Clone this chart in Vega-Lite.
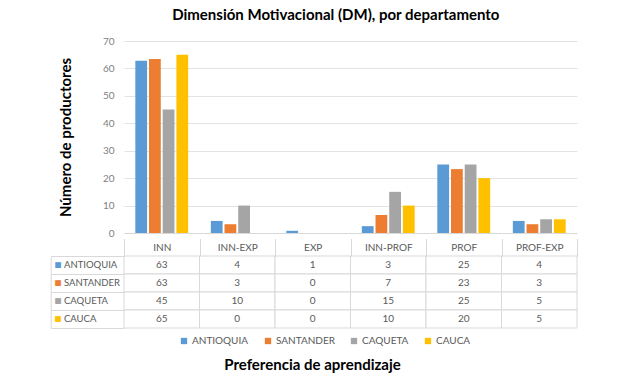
{
  "$schema": "https://vega.github.io/schema/vega-lite/v6.json",
  "padding": {"left": 50, "top": 8, "right": 5, "bottom": 5},
  "autosize": {"type": "pad"},
  "title": {"text": "Dimensión Motivacional (DM), por departamento", "font": "Lato", "fontSize": 15, "fontWeight": "bold", "color": "#000000", "anchor": "middle", "dx": 22, "offset": 13},
  "config": {
    "view": {"stroke": null},
    "font": "Lato",
    "legend": {"orient": "none", "legendX": 55, "legendY": 295, "direction": "horizontal", "symbolType": "square", "symbolSize": 40, "symbolStrokeWidth": 0, "labelFont": "Lato", "labelFontSize": 10, "labelColor": "#595959", "columnPadding": 14, "symbolOffset": 0, "labelOffset": 3, "title": null}
  },
  "data": {"values": [
    {"categoria": "INN", "departamento": "ANTIOQUIA", "valor": 62.8},
    {"categoria": "INN", "departamento": "SANTANDER", "valor": 63.4},
    {"categoria": "INN", "departamento": "CAQUETA", "valor": 45},
    {"categoria": "INN", "departamento": "CAUCA", "valor": 65},
    {"categoria": "INN-EXP", "departamento": "ANTIOQUIA", "valor": 4.4},
    {"categoria": "INN-EXP", "departamento": "SANTANDER", "valor": 3.2},
    {"categoria": "INN-EXP", "departamento": "CAQUETA", "valor": 10},
    {"categoria": "INN-EXP", "departamento": "CAUCA", "valor": 0},
    {"categoria": "EXP", "departamento": "ANTIOQUIA", "valor": 0.8},
    {"categoria": "EXP", "departamento": "SANTANDER", "valor": 0},
    {"categoria": "EXP", "departamento": "CAQUETA", "valor": 0},
    {"categoria": "EXP", "departamento": "CAUCA", "valor": 0},
    {"categoria": "INN-PROF", "departamento": "ANTIOQUIA", "valor": 2.5},
    {"categoria": "INN-PROF", "departamento": "SANTANDER", "valor": 6.6},
    {"categoria": "INN-PROF", "departamento": "CAQUETA", "valor": 15},
    {"categoria": "INN-PROF", "departamento": "CAUCA", "valor": 10},
    {"categoria": "PROF", "departamento": "ANTIOQUIA", "valor": 25},
    {"categoria": "PROF", "departamento": "SANTANDER", "valor": 23.3},
    {"categoria": "PROF", "departamento": "CAQUETA", "valor": 25},
    {"categoria": "PROF", "departamento": "CAUCA", "valor": 20},
    {"categoria": "PROF-EXP", "departamento": "ANTIOQUIA", "valor": 4.4},
    {"categoria": "PROF-EXP", "departamento": "SANTANDER", "valor": 3.2},
    {"categoria": "PROF-EXP", "departamento": "CAQUETA", "valor": 5},
    {"categoria": "PROF-EXP", "departamento": "CAUCA", "valor": 5}
  ]},
  "spacing": 0,
  "vconcat": [
    {
      "width": 453,
      "height": 192,
      "mark": {"type": "bar"},
      "encoding": {
        "x": {"field": "categoria", "type": "nominal", "sort": ["INN", "INN-EXP", "EXP", "INN-PROF", "PROF", "PROF-EXP"],
          "scale": {"paddingInner": 0.3, "paddingOuter": 0.15},
          "axis": {"title": null, "labels": false, "ticks": false, "domain": true, "domainColor": "#d9d9d9", "domainWidth": 1}},
        "xOffset": {"field": "departamento", "type": "nominal", "sort": ["ANTIOQUIA", "SANTANDER", "CAQUETA", "CAUCA"], "scale": {"paddingInner": 0.14}},
        "y": {"field": "valor", "type": "quantitative", "scale": {"domain": [0, 70]},
          "axis": {"values": [0, 10, 20, 30, 40, 50, 60, 70], "title": "Número de productores", "titleFont": "Lato", "titleFontSize": 15, "titleFontWeight": "bold", "titleColor": "#000000", "titlePadding": 29,
            "labelFont": "Lato", "labelFontSize": 10, "labelColor": "#808080", "labelPadding": 10, "ticks": false, "domain": false, "grid": true, "gridColor": "#e3e3e3", "gridWidth": 1}},
        "color": {"field": "departamento", "type": "nominal", "sort": ["ANTIOQUIA", "SANTANDER", "CAQUETA", "CAUCA"],
          "scale": {"domain": ["ANTIOQUIA", "SANTANDER", "CAQUETA", "CAUCA"], "range": ["#5B9BD5", "#ED7D31", "#A5A5A5", "#FFC000"]}}
      }
    },
    {
      "width": 453,
      "height": 72,
      "layer": [
        {
          "mark": {"type": "rect", "fill": "#ffffff", "stroke": "#d9d9d9", "strokeWidth": 1},
          "encoding": {
            "x": {"field": "categoria", "type": "nominal", "sort": ["INN", "INN-EXP", "EXP", "INN-PROF", "PROF", "PROF-EXP"], "scale": {"padding": 0},
              "axis": {"orient": "top", "title": null, "labels": true, "labelAngle": 0, "labelPadding": -9, "labelBaseline": "middle", "labelFont": "Lato", "labelFontSize": 10, "labelColor": "#595959",
                "ticks": true, "tickBand": "extent", "tickSize": 17.5, "tickColor": "#d9d9d9", "domain": false, "grid": false}},
            "y": {"field": "departamento", "type": "nominal", "sort": ["ANTIOQUIA", "SANTANDER", "CAQUETA", "CAUCA"], "scale": {"padding": 0},
              "axis": {"orient": "left", "title": null, "labels": false, "ticks": true, "tickBand": "extent", "tickSize": 73.3, "tickColor": "#d9d9d9", "domain": false, "grid": false}}
          }
        },
        {
          "mark": {"type": "text", "font": "Lato", "fontSize": 10, "color": "#595959"},
          "encoding": {
            "x": {"field": "categoria", "type": "nominal", "sort": ["INN", "INN-EXP", "EXP", "INN-PROF", "PROF", "PROF-EXP"], "scale": {"padding": 0},
              "axis": {"orient": "bottom", "title": "Preferencia de aprendizaje", "titleFont": "Lato", "titleFontSize": 15, "titleFontWeight": "bold", "titleColor": "#000000", "titlePadding": 29, "titleX": 188, "titleAnchor": "middle", "labels": false, "ticks": false, "domain": false, "grid": false}},
            "y": {"field": "departamento", "type": "nominal", "sort": ["ANTIOQUIA", "SANTANDER", "CAQUETA", "CAUCA"], "scale": {"padding": 0},
              "axis": {"orient": "left", "title": null, "labels": true, "labelAlign": "left", "labelPadding": 60.5, "labelFont": "Lato", "labelFontSize": 9.5, "labelColor": "#595959", "ticks": false, "domain": false, "grid": false}},
            "text": {"field": "valor", "type": "quantitative", "format": ".0f"}
          }
        },
        {
          "mark": {"type": "rect", "opacity": 0},
          "encoding": {
            "x": {"field": "categoria", "type": "nominal", "sort": ["INN", "INN-EXP", "EXP", "INN-PROF", "PROF", "PROF-EXP"], "scale": {"padding": 0}, "axis": null},
            "y": {"field": "departamento", "type": "nominal", "sort": ["ANTIOQUIA", "SANTANDER", "CAQUETA", "CAUCA"], "scale": {"padding": 0},
              "axis": {"orient": "left", "title": null, "offset": 73.3, "domain": true, "domainColor": "#d9d9d9", "ticks": false, "grid": false, "labels": true, "labelExpr": "'■'", "labelAlign": "left", "labelPadding": -3.3, "labelFont": "DejaVu Sans", "labelFontSize": 7.5,
                "labelColor": {"condition": [
                  {"test": "datum.value === 'ANTIOQUIA'", "value": "#5B9BD5"},
                  {"test": "datum.value === 'SANTANDER'", "value": "#ED7D31"},
                  {"test": "datum.value === 'CAQUETA'", "value": "#A5A5A5"}
                ], "value": "#FFC000"}}}
          }
        }
      ],
      "resolve": {"axis": {"x": "independent", "y": "independent"}}
    }
  ]
}
